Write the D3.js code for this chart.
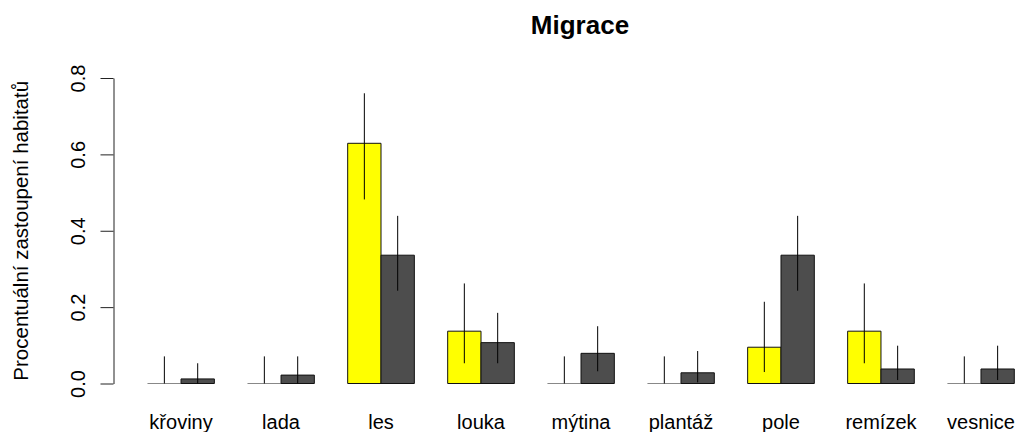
<!DOCTYPE html>
<html>
<head>
<meta charset="utf-8">
<script src="https://d3js.org/d3.v7.min.js"></script>
<style>
  body { margin: 0; background: #fff; }
  text { font-family: "Liberation Sans", Arial, sans-serif; }
</style>
</head>
<body>
<svg width="1017" height="432"></svg>
<script>
// habitat categories
var categories = ["křoviny", "lada", "les", "louka", "mýtina", "plantáž", "pole", "remízek", "vesnice"];
var seriesNames = ["a", "b"];

// first series (yellow) with error limits
var yellowVals = [0, 0, 0.629, 0.137, 0, 0, 0.095, 0.137, 0];
var yellowHi   = [0.071, 0.071, 0.760, 0.262, 0.071, 0.071, 0.214, 0.262, 0.071];
var yellowLo   = [0, 0, 0.482, 0.053, 0, 0, 0.030, 0.053, 0];

// second series (dark grey) with error limits
var greyVals = [0.012, 0.022, 0.336, 0.107, 0.079, 0.028, 0.336, 0.038, 0.038];
var greyHi   = [0.053, 0.071, 0.439, 0.185, 0.150, 0.085, 0.439, 0.099, 0.099];
var greyLo   = [0, 0, 0.243, 0.053, 0.032, 0.003, 0.243, 0.009, 0.009];

var yTicks = [0, 0.2, 0.4, 0.6, 0.8];

var svg = d3.select("svg");

var colors = { a: "#ffff00", b: "#4d4d4d" };

var rows = categories.map(function(c, i) {
  return { cat: c, bars: [
    { s: "a", v: yellowVals[i], lo: yellowLo[i], hi: yellowHi[i] },
    { s: "b", v: greyVals[i], lo: greyLo[i], hi: greyHi[i] }
  ]};
});

//Scales
var x0 = d3.scaleBand()
  .domain(categories)
  .range([147.7, 1014.3])
  .paddingInner(1 / 3);

var x1 = d3.scaleBand()
  .domain(seriesNames)
  .range([0, x0.bandwidth()]);

var y = d3.scaleLinear()
  .domain([0, 0.8])
  .range([383.5, 78]);

//Bars (drawn as paths so zero bars still show their outline)
var group = svg.selectAll("g.grp")
  .data(rows)
  .enter().append("g")
  .attr("class", "grp")
  .attr("transform", function(d) { return "translate(" + x0(d.cat) + ",0)"; });

group.selectAll("path.bar")
  .data(function(d) { return d.bars; })
  .enter().append("path")
  .attr("class", "bar")
  .attr("d", function(d) {
    var bx = x1(d.s), bw = x1.bandwidth(), top = y(d.v), h = y(0) - y(d.v);
    return "M" + bx + "," + y(0) + "h" + bw + "V" + top + "h" + (-bw) + "Z";
  })
  .attr("fill", function(d) { return colors[d.s]; })
  .attr("stroke", function(d) { return d.v > 0 ? "#111" : "#888"; })
  .attr("stroke-width", 1);

//Error bars
group.selectAll("line.err")
  .data(function(d) { return d.bars; })
  .enter().append("line")
  .attr("class", "err")
  .attr("x1", function(d) { return x1(d.s) + x1.bandwidth() / 2; })
  .attr("x2", function(d) { return x1(d.s) + x1.bandwidth() / 2; })
  .attr("y1", function(d) { return y(d.lo); })
  .attr("y2", function(d) { return y(d.hi); })
  .attr("stroke", "#000")
  .attr("stroke-width", 1);

//Y axis
var yAxis = svg.append("g")
  .attr("transform", "translate(113.5,0)")
  .call(d3.axisLeft(y).tickValues(yTicks).tickSize(13).tickSizeOuter(0)
    .tickFormat(d3.format(".1f")));

yAxis.select(".domain").attr("stroke", "#222");
yAxis.selectAll(".tick line").attr("stroke", "#222");
yAxis.selectAll(".tick text")
  .attr("x", null)
  .attr("dy", null)
  .attr("transform", "translate(-29,0) rotate(-90)")
  .attr("text-anchor", "middle")
  .attr("font-size", "20px")
  .attr("font-family", "Liberation Sans, Arial, sans-serif")
  .attr("fill", "#000");

//Category labels
svg.selectAll("text.cat")
  .data(categories)
  .enter().append("text")
  .attr("class", "cat")
  .attr("x", function(d) { return x0(d) + x0.bandwidth() / 2; })
  .attr("y", 429)
  .attr("text-anchor", "middle")
  .attr("font-size", "20px")
  .text(function(d) { return d; });

//Axis title
svg.append("text")
  .attr("transform", "translate(28," + ((y(0) + y(0.8)) / 2) + ") rotate(-90)")
  .attr("text-anchor", "middle")
  .attr("font-size", "20.5px")
  .text("Procentuální zastoupení habitatů");

//Title
svg.append("text")
  .attr("x", 580)
  .attr("y", 34)
  .attr("text-anchor", "middle")
  .attr("font-size", "26px")
  .attr("font-weight", "bold")
  .text("Migrace");
</script>
</body>
</html>
